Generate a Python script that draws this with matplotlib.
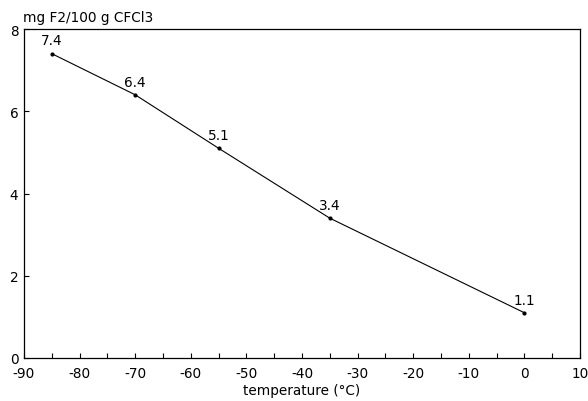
import matplotlib
matplotlib.use("Agg")
import matplotlib.pyplot as plt

temperature = [-85, -70, -55, -35, 0]
solubility = [7.4, 6.4, 5.1, 3.4, 1.1]
point_labels = ["7.4", "6.4", "5.1", "3.4", "1.1"]
x_ticks = list(range(-90, 11, 10))
x_minor_ticks = list(range(-85, 10, 10))
y_ticks = [0, 2, 4, 6, 8]

plt.rcParams['font.family'] = ['DejaVu Sans']
plt.rcParams['axes.unicode_minus'] = False
FS = 9.8
fig = plt.figure(figsize=(5.88, 4.02), dpi=100)
ax = fig.add_axes([24/588, 43/402, 556/588, 329/402])
ax.plot(temperature, solubility, color='black', lw=0.8, marker='o', ms=2.0)
for x, y, t in zip(temperature, solubility, point_labels):
    ax.annotate(t, (x, y), xytext=(0, 4.5), textcoords='offset points',
                ha='center', va='bottom', fontsize=FS)
ax.set_xlim(-90, 10)
ax.set_ylim(0, 8)
ax.set_xticks(x_ticks)
ax.set_xticks(x_minor_ticks, minor=True)
ax.set_yticks(y_ticks)
ax.tick_params(which='both', direction='in', length=3.5, width=0.8, labelsize=FS)
ax.tick_params(axis='x', pad=6)
ax.tick_params(axis='y', pad=4)
for s in ax.spines.values():
    s.set_linewidth(0.9)
ax.set_xlabel('temperature (°C)', fontsize=FS, labelpad=2)
fig.text(23/588, 1 - 22/402, 'mg F2/100 g CFCl3', fontsize=FS, va='baseline', ha='left')
fig.savefig('out.png', dpi=100)
